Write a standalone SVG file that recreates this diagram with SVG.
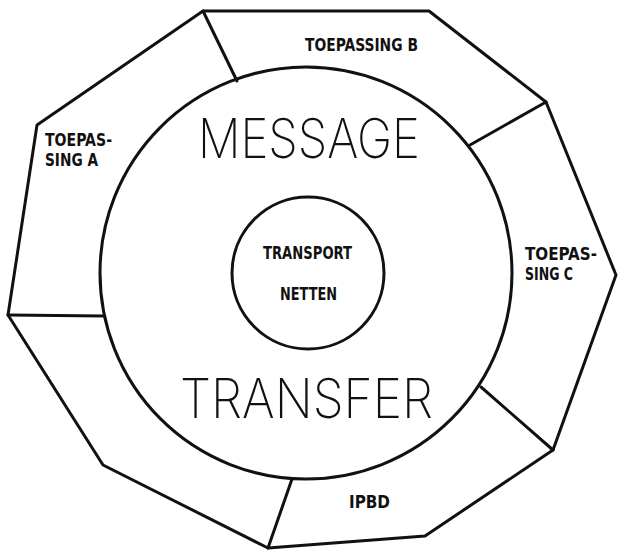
<svg xmlns="http://www.w3.org/2000/svg" width="618" height="551" viewBox="0 0 618 551">
<style>
.ln{fill:none;stroke:#111;stroke-width:3;stroke-linejoin:round;stroke-linecap:round}
.lbl{font-family:"DejaVu Sans Condensed","Liberation Sans Narrow","Liberation Sans",sans-serif;font-weight:bold;font-size:17px;fill:#111}
.big{font-family:Inter,"Open Sans","DejaVu Sans",sans-serif;font-weight:200;font-size:55px;fill:#111}
</style>
<rect width="618" height="551" fill="#fff"/>
<g id="outer-ring">
<polygon class="ln" points="203,11 429,11 546,102 616,275 553,450 425,536 268,548 103,465 8,315 37,125"/>
<circle class="ln" cx="306" cy="273" r="206"/>
</g>
<g id="connectors">
<line class="ln" x1="203" y1="11" x2="237" y2="81"/>
<line class="ln" x1="546" y1="102" x2="470" y2="145"/>
<line class="ln" x1="553" y1="450" x2="481" y2="387"/>
<line class="ln" x1="268" y1="548" x2="292" y2="479"/>
<line class="ln" x1="8" y1="315" x2="104" y2="316"/>
</g>
<g id="toepassing-a">
<text class="lbl" x="45" y="146" textLength="67" lengthAdjust="spacingAndGlyphs">TOEPAS-</text>
<text class="lbl" x="45" y="166" textLength="53" lengthAdjust="spacingAndGlyphs">SING A</text>
</g>
<g id="toepassing-b">
<text class="lbl" x="305" y="51" textLength="113" lengthAdjust="spacingAndGlyphs">TOEPASSING B</text>
</g>
<g id="toepassing-c">
<text class="lbl" x="525" y="260" textLength="72" lengthAdjust="spacingAndGlyphs">TOEPAS-</text>
<text class="lbl" x="525" y="280" textLength="48" lengthAdjust="spacingAndGlyphs">SING C</text>
</g>
<g id="ipbd">
<text class="lbl" x="349" y="508" textLength="41" lengthAdjust="spacingAndGlyphs">IPBD</text>
</g>
<g id="message-transfer">
<text class="big" x="198" y="158" textLength="222" lengthAdjust="spacingAndGlyphs">MESSAGE</text>
<text class="big" x="180" y="418" textLength="253" lengthAdjust="spacingAndGlyphs">TRANSFER</text>
</g>
<g id="transport-netten">
<circle class="ln" cx="308" cy="273" r="76"/>
<text class="lbl" x="263" y="259" textLength="89" lengthAdjust="spacingAndGlyphs">TRANSPORT</text>
<text class="lbl" x="280" y="300" textLength="57" lengthAdjust="spacingAndGlyphs">NETTEN</text>
</g>
</svg>
